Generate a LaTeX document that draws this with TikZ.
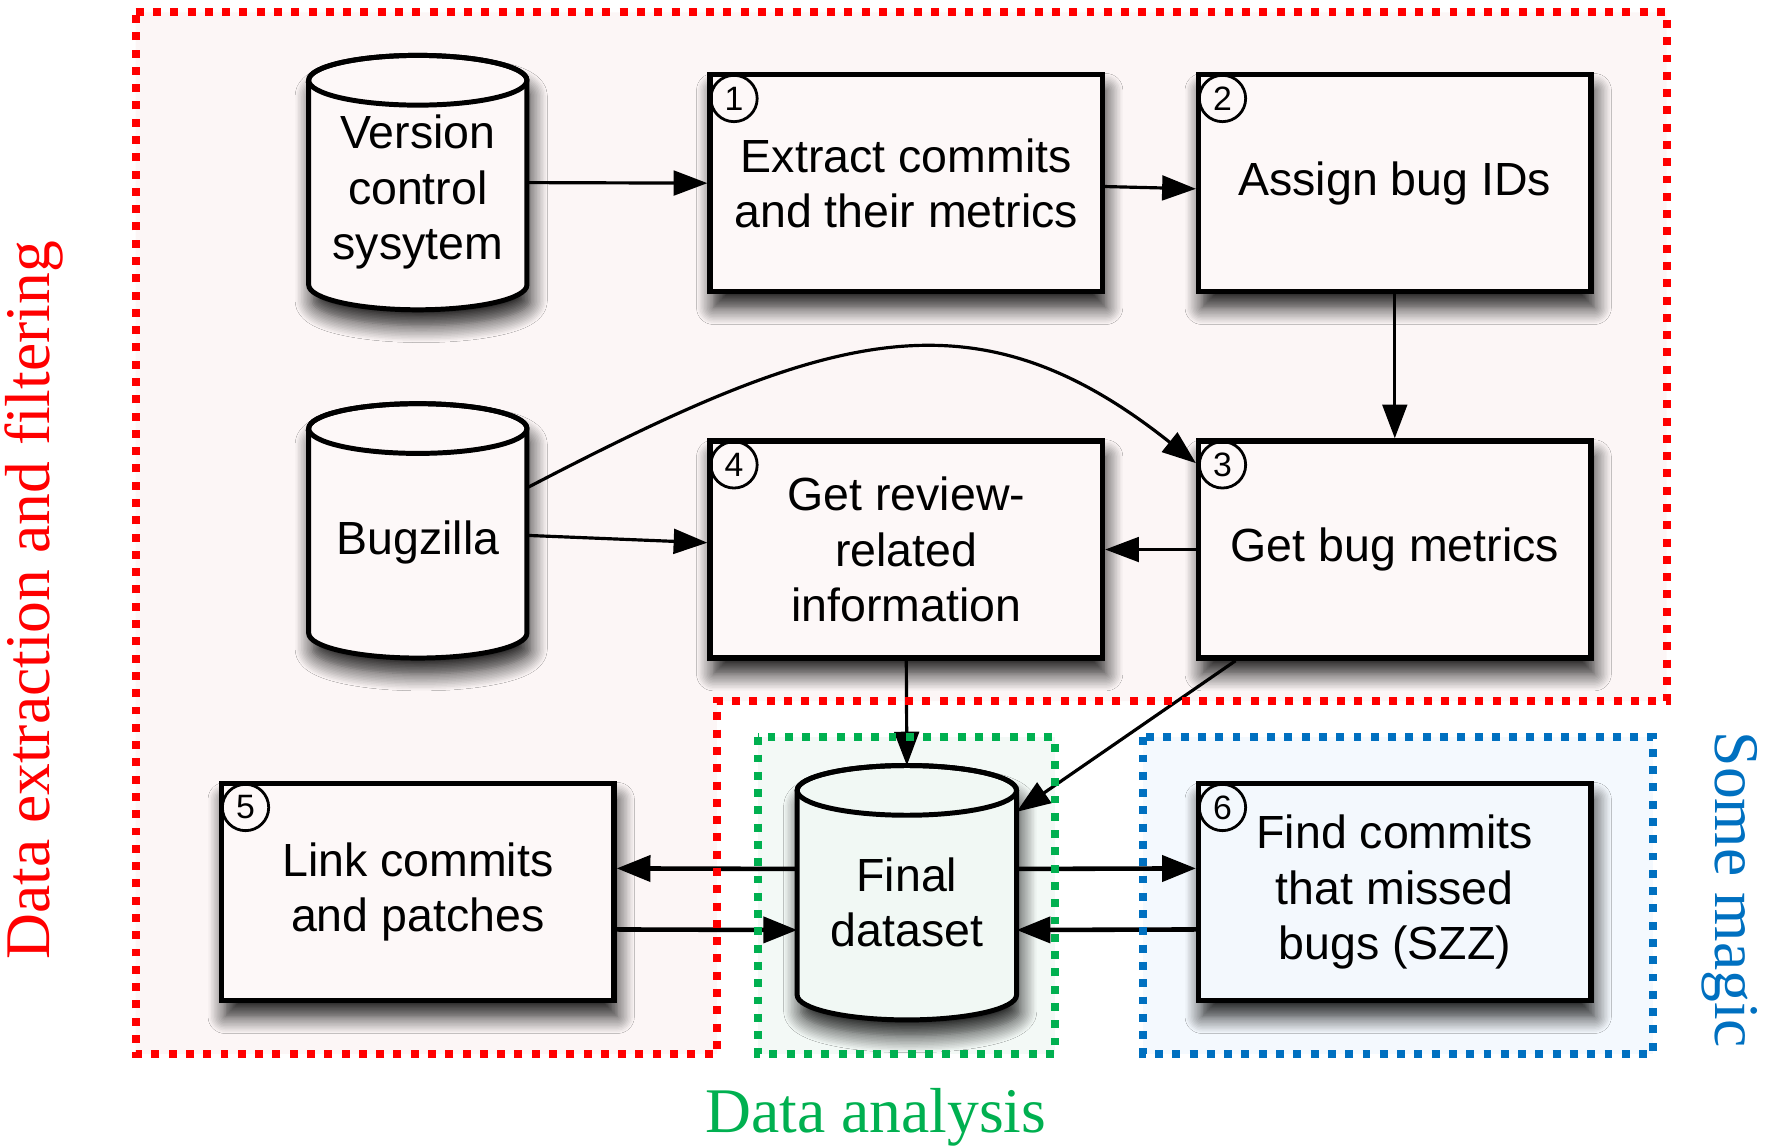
\documentclass[tikz,border=0pt]{standalone}
\usepackage{fontspec}
\setmainfont{Liberation Serif}
\setsansfont{Liberation Sans}
\usetikzlibrary{arrows.meta,shadows.blur}

\definecolor{regred}{RGB}{255,0,0}
\definecolor{reggreen}{RGB}{0,176,80}
\definecolor{regblue}{RGB}{0,112,192}
\definecolor{pinkbg}{RGB}{252,246,246}
\definecolor{pinkbox}{RGB}{253,248,248}
\definecolor{greenbg}{RGB}{243,249,246}
\definecolor{bluebg}{RGB}{244,249,254}
\definecolor{finalfill}{RGB}{241,248,244}
\definecolor{bluebox}{RGB}{243,248,253}

\newcommand\drawcyl[6]{% name, cx, topY, bottomY, rx, fill
  \path[draw, line width=1.25pt, fill=#6, boxshadow]
    ({#2-#5},{#3-0.22}) -- ({#2-#5},{#4+0.22})
    arc[start angle=180, end angle=360, x radius=#5cm, y radius=0.22cm]
    -- ({#2+#5},{#3-0.22})
    arc[start angle=0, end angle=180, x radius=#5cm, y radius=0.22cm] -- cycle;
  \draw[line width=1.25pt] (#2,{#3-0.22}) ellipse [x radius=#5cm, y radius=0.22cm];
  \node[anchorbox, minimum width={2*#5cm}, minimum height={(#3-#4)*1cm}] (#1) at (#2,{(#3+#4)/2}) {};
}

\begin{document}
\begin{tikzpicture}[
  x=1cm,y=1cm,
  region/.style={line width=2.0pt, dash pattern=on 2.0pt off 2.35pt},
  boxshadow/.style={blur shadow={shadow xshift=0.03cm, shadow yshift=-0.14cm, shadow blur radius=0.15cm, shadow blur steps=12, shadow opacity=90}},
  procbox/.style={draw, line width=1.35pt, fill=pinkbox, minimum width=3.47cm, minimum height=1.92cm, align=center, font=\sffamily\fontsize{11.7}{13.9}\selectfont, inner sep=0pt, boxshadow},
  numcirc/.style={draw, circle, line width=0.7pt, minimum size=0.41cm, inner sep=0pt, font=\sffamily\fontsize{8.5}{8.5}\selectfont},
  cyltext/.style={align=center, inner sep=0pt, font=\sffamily\fontsize{11.7}{13.9}\selectfont},
  anchorbox/.style={draw=none, fill=none, inner sep=0pt, outer sep=0pt},
  conn/.style={line width=0.8pt, draw=black, -{Triangle[length=8.5pt,width=6.2pt,fill=black]}},
  thickconn/.style={line width=1.15pt, draw=black, -{Triangle[length=8.5pt,width=6.5pt,fill=black]}},
  lbl/.style={font=\fontsize{16}{19}\selectfont, inner sep=0pt}
]
\useasboundingbox (0,0) rectangle (15.68,10.14);

% region fills
\fill[pinkbg] (1.20,10.03) -- (14.74,10.03) -- (14.74,3.94) -- (6.34,3.94) -- (6.34,0.82) -- (1.20,0.82) -- cycle;
\fill[greenbg] (6.70,3.62) rectangle (9.33,0.82);
\fill[bluebg] (10.11,3.62) rectangle (14.62,0.82);

% cylinders
\drawcyl{vcs}{3.695}{9.65}{7.40}{0.965}{pinkbox}
\drawcyl{bug}{3.695}{6.57}{4.32}{0.965}{pinkbox}
\drawcyl{final}{8.02}{3.37}{1.12}{0.97}{finalfill}
\node[cyltext] (vcst) at (3.695,8.44) {Version\\control\\sysytem};
\node[cyltext] (bugt) at (3.695,5.34) {Bugzilla};
\node[cyltext] (finalt) at (8.02,2.16) {Final\\dataset};

% process boxes
\node[procbox] (box1) at (8.015,8.52) {Extract commits\\and their metrics};
\node[procbox] (box2) at (12.335,8.52) {Assign bug IDs};
\node[procbox] (box4) at (8.015,5.28) {Get review-\\related\\information};
\node[procbox] (box3) at (12.335,5.28) {Get bug metrics};
\node[procbox] (box5) at (3.695,2.25) {Link commits\\and patches};
\node[procbox, fill=bluebox] (box6) at (12.335,2.25) {Find commits\\that missed\\bugs (SZZ)};

% circled numbers
\node[numcirc] (c1) at ([xshift=0.235cm,yshift=-0.235cm]box1.north west) {1};
\node[numcirc] (c2) at ([xshift=0.235cm,yshift=-0.235cm]box2.north west) {2};
\node[numcirc] (c3) at ([xshift=0.235cm,yshift=-0.235cm]box3.north west) {3};
\node[numcirc] (c4) at ([xshift=0.235cm,yshift=-0.235cm]box4.north west) {4};
\node[numcirc] (c5) at ([xshift=0.235cm,yshift=-0.235cm]box5.north west) {5};
\node[numcirc] (c6) at ([xshift=0.235cm,yshift=-0.235cm]box6.north west) {6};

% connectors
\draw[conn] (vcs.east) -- (box1.west);
\draw[conn] ([yshift=-0.03cm]box1.east) -- ([yshift=-0.05cm]box2.west);
\draw[conn] (box2.south) -- (box3.north);
\draw[conn] ([yshift=0.38cm]bug.east) .. controls (7.3,7.2) and (8.6,7.62) .. ([yshift=-0.22cm]box3.north west);
\draw[conn] ([yshift=-0.04cm]bug.east) -- ([yshift=0.06cm]box4.west);
\draw[conn] (box3.west) -- (box4.east);
\draw[conn] (box4.south) -- (final.north);
\draw[conn] ([xshift=0.35cm]box3.south west) -- ([yshift=-0.41cm]final.north east);
\draw[thickconn] ([yshift=0.21cm]final.west) -- ([yshift=0.21cm]box5.east);
\draw[thickconn] ([yshift=-0.33cm]box5.east) -- ([yshift=-0.33cm]final.west);
\draw[thickconn] ([yshift=0.21cm]final.east) -- ([yshift=0.21cm]box6.west);
\draw[thickconn] ([yshift=-0.33cm]box6.west) -- ([yshift=-0.33cm]final.east);

% region outlines
\draw[region, regred] (1.20,10.03) -- (14.74,10.03) -- (14.74,3.94) -- (6.34,3.94) -- (6.34,0.82) -- (1.20,0.82) -- cycle;
\draw[region, reggreen] (6.70,3.62) rectangle (9.33,0.82);
\draw[region, regblue] (10.11,3.62) rectangle (14.62,0.82);

% region labels
\node[lbl, text=regred, rotate=90, anchor=base] (lred) at (0.44,4.83) {Data extraction and filtering};
\node[lbl, text=regblue, rotate=-90, anchor=base] (lblue) at (15.17,2.27) {Some magic};
\node[lbl, text=reggreen, anchor=base] (lgreen) at (7.745,0.12) {Data analysis};
\end{tikzpicture}
\end{document}
